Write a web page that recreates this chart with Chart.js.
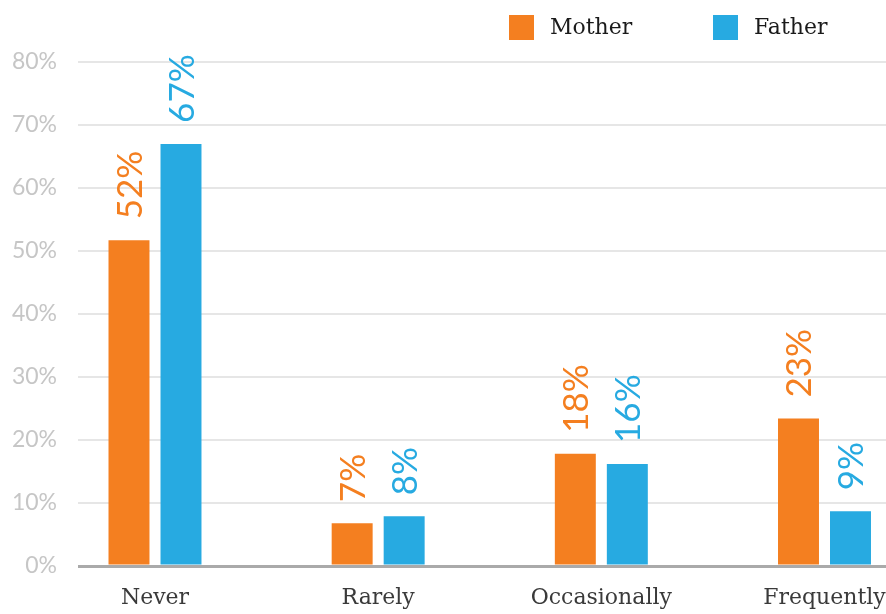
<!DOCTYPE html>
<html><head><meta charset="utf-8">
<script src="https://cdn.jsdelivr.net/npm/chart.js@4"></script>
<style>html,body{margin:0;padding:0;background:#fff}#wrap{width:886px;height:614px;position:relative}</style>
</head><body><div id="wrap"><canvas id="c"></canvas></div>
<script>
const categories = ['Never', 'Rarely', 'Occasionally', 'Frequently'];
const seriesNames = ['Mother', 'Father'];
const motherValues = [51.7, 6.8, 17.8, 23.4];
const fatherValues = [67.0, 7.9, 16.2, 8.7];
const yTickValues = [0, 10, 20, 30, 40, 50, 60, 70, 80];
const seriesColors = ['#F47F20', '#27AAE1'];

const toPoints = arr => arr.map((v, i) => ({ x: i, y: v }));

const valueLabels = {
  id: 'valueLabels',
  afterDatasetsDraw(chart) {
    const ctx = chart.ctx;
    chart.data.datasets.forEach((ds, di) => {
      const meta = chart.getDatasetMeta(di);
      meta.data.forEach((bar, i) => {
        const txt = Math.round(ds.data[i].y) + '%';
        ctx.save();
        ctx.translate(bar.x + 13, bar.y - 21);
        ctx.rotate(-Math.PI / 2);
        ctx.font = '400 35px Lato';
        ctx.fillStyle = ds.backgroundColor;
        ctx.textAlign = 'left';
        ctx.textBaseline = 'alphabetic';
        ctx.fillText(txt, 0, 0);
        ctx.restore();
      });
    });
  }
};

const customLegend = {
  id: 'customLegend',
  afterDraw(chart) {
    const ctx = chart.ctx;
    const xs = [509, 713];
    ctx.save();
    chart.data.datasets.forEach((ds, i) => {
      ctx.fillStyle = ds.backgroundColor;
      ctx.fillRect(xs[i], 15, 25, 25);
      ctx.fillStyle = '#1a1a1a';
      ctx.font = '22px "DejaVu Serif"';
      ctx.textAlign = 'left';
      ctx.textBaseline = 'middle';
      ctx.fillText(ds.label, xs[i] + 41, 28);
    });
    ctx.restore();
  }
};

new Chart(document.getElementById('c'), {
  type: 'bar',
  data: {
    datasets: [
      { label: seriesNames[0], data: toPoints(motherValues), backgroundColor: seriesColors[0] },
      { label: seriesNames[1], data: toPoints(fatherValues), backgroundColor: seriesColors[1] }
    ]
  },
  options: {
    responsive: true,
    maintainAspectRatio: false,
    animation: false,
    categoryPercentage: 0.466,
    barPercentage: 0.788,
    layout: { padding: { top: 62, left: 0, right: 0, bottom: 0 } },
    plugins: { legend: { display: false }, tooltip: { enabled: false } },
    scales: {
      x: {
        type: 'linear',
        offset: false,
        min: -0.345,
        max: 3.2756,
        afterBuildTicks: s => { s.ticks = categories.map((c, i) => ({ value: i })); },
        afterFit: s => { s.height = 48; s.paddingLeft = 0; s.paddingRight = 0; },
        grid: { display: false, drawTicks: false, offset: false },
        border: { display: false },
        ticks: {
          autoSkip: false,
          maxRotation: 0,
          padding: 19,
          color: '#3a3a3a',
          font: { family: 'DejaVu Serif', size: 22 },
          callback: v => categories[v]
        }
      },
      y: {
        min: 0,
        max: 80,
        afterBuildTicks: s => { s.ticks = yTickValues.map(v => ({ value: v })); },
        afterFit: s => { s.width = 78; },
        border: { display: false },
        grid: {
          drawTicks: false,
          color: c => c.tick.value === 0 ? '#aaaaaa' : '#e6e6e6',
          lineWidth: c => c.tick.value === 0 ? 3 : 2
        },
        ticks: {
          padding: 21,
          color: '#c6c6c6',
          font: { family: 'Lato', size: 23 },
          callback: v => v + '%'
        }
      }
    }
  },
  plugins: [valueLabels, customLegend]
});
</script></body></html>
